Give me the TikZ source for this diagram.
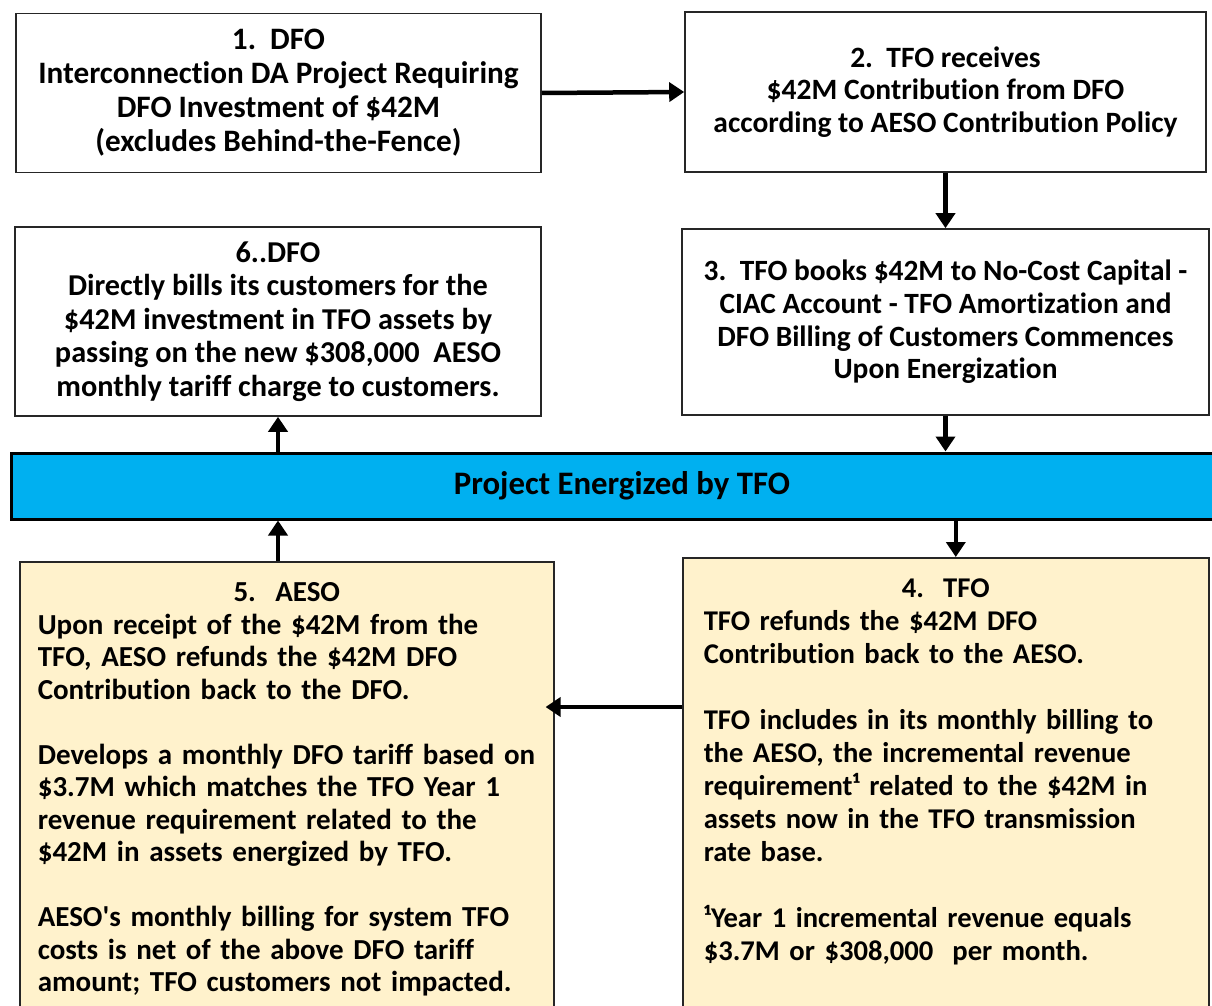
\documentclass[tikz,border=0pt]{standalone}
\usepackage{fontspec}
\setmainfont{Carlito}[Ligatures=NoCommon]
\usetikzlibrary{arrows.meta,positioning}
\definecolor{energized}{RGB}{0,176,240}
\definecolor{refund}{RGB}{255,242,204}
\newcommand{\boxfont}[2]{\fontsize{#1}{#2}\selectfont\bfseries}
\newcommand{\headline}[1]{\makebox[\linewidth]{#1}}
\tikzset{
  stepbox/.style={draw=black!85,line width=0.8pt,align=center,inner sep=0pt},
  notebox/.style={stepbox,fill=refund,align=left,anchor=north west,
    inner xsep=9pt,inner ysep=10.5pt,text depth=230pt},
  flow/.style={line width=2.25pt,-{Triangle[length=7.5pt,width=9.5pt]}},
}

\begin{document}
\begin{tikzpicture}[x=0.5pt,y=-0.5pt]
\useasboundingbox (0,0) rectangle (1212,1006);

\node[stepbox,font=\boxfont{15.6}{17},minimum width=262.5pt,minimum height=79.5pt] (dfo) at (278.5,93)
  {1.\ \ DFO\\Interconnection DA Project Requiring\\DFO Investment of \$42M\\(excludes Behind-the-Fence)};
\node[stepbox,font=\boxfont{14.75}{16.25},minimum width=260.5pt,minimum height=80pt] (recv) at (945.5,92)
  {2.\ \ TFO receives\\\$42M Contribution from DFO\\according to AESO Contribution Policy};
\node[stepbox,font=\boxfont{14.7}{16.3},minimum width=263.5pt,minimum height=93pt] (book) at (945.5,322)
  {3.\ \ TFO books \$42M to No-Cost Capital -\\CIAC Account - TFO Amortization and\\DFO Billing of Customers Commences\\Upon Energization};
\node[stepbox,font=\boxfont{15.15}{16.8},minimum width=263pt,minimum height=94.5pt] (bill) at (278,321.5)
  {6..DFO\\Directly bills its customers for the\\\$42M investment in TFO assets by\\passing on the new \$308,000\ \ AESO\\monthly tariff charge to customers.};

\node[stepbox,font=\boxfont{16.4}{18},draw=black,line width=1.5pt,fill=energized,minimum width=611pt,minimum height=33pt] (energy) at (622,486)
  {Project Energized by TFO};

\node[notebox,font=\boxfont{14.3}{16.5},text width=242pt,inner xsep=10.5pt] (tfo) at (682,557)
  {\headline{4.\ \ TFO}\\
   TFO refunds the \$42M DFO\\
   Contribution back to the AESO.\\[16.5pt]
   TFO includes in its monthly billing to\\
   the AESO, the incremental revenue\\
   requirement¹ related to the \$42M in\\
   assets now in the TFO transmission\\
   rate base.\\[16.5pt]
   ¹Year 1 incremental revenue equals\\
   \$3.7M or \$308,000\ \ per month.};
\node[notebox,font=\boxfont{14.5}{16.25},text width=249pt] (aeso) at (19,561)
  {\headline{5.\ \ AESO}\\
   Upon receipt of the \$42M from the\\
   TFO, AESO refunds the \$42M DFO\\
   Contribution back to the DFO.\\[16.25pt]
   Develops a monthly DFO tariff based on\\
   \$3.7M which matches the TFO Year 1\\
   revenue requirement related to the\\
   \$42M in assets energized by TFO.\\[16.25pt]
   AESO\textquotesingle s monthly billing for system TFO\\
   costs is net of the above DFO tariff\\
   amount; TFO customers not impacted.};

\path ([yshift=-75pt]tfo.north west) coordinate (pay);

\draw[flow] (dfo.east) -- (recv.west);
\draw[flow] (recv.south) -- (book.north);
\draw[flow] (book.south) -- (book.south |- energy.north);
\draw[flow,transform canvas={xshift=5pt}] (tfo.north |- energy.south) -- (tfo.north);
\draw[flow,shorten >=-4.5pt] (pay) -- (pay -| aeso.east);
\draw[flow] (bill.south |- aeso.north) -- (bill.south |- energy.south);
\draw[flow] (bill.south |- energy.north) -- (bill.south);
\end{tikzpicture}
\end{document}
